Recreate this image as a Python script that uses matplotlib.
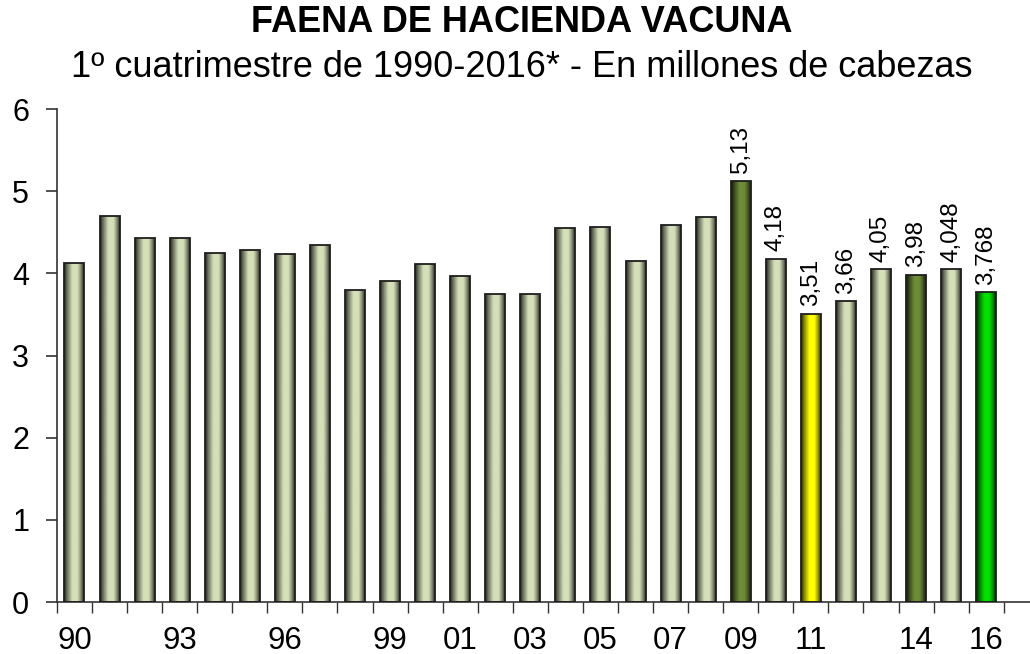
import numpy as np
import matplotlib
matplotlib.use("Agg")
import matplotlib.pyplot as plt
from matplotlib.colors import LinearSegmentedColormap, to_rgb

plt.rcParams['font.family'] = ['Liberation Sans', 'DejaVu Sans']

years = list(range(1990, 2017))
values = [4.13, 4.70, 4.43, 4.43, 4.25, 4.29, 4.23, 4.34, 3.80, 3.91,
          4.11, 3.97, 3.75, 3.75, 4.55, 4.57, 4.15, 4.59, 4.68, 5.13,
          4.18, 3.51, 3.66, 4.05, 3.98, 4.048, 3.768]
value_labels = {2009: "5,13", 2010: "4,18", 2011: "3,51", 2012: "3,66",
                2013: "4,05", 2014: "3,98", 2015: "4,048", 2016: "3,768"}
shown_ticks = {1990: "90", 1993: "93", 1996: "96", 1999: "99", 2001: "01",
               2003: "03", 2005: "05", 2007: "07", 2009: "09", 2011: "11",
               2014: "14", 2016: "16"}
special_colors = {2009: "#6e8c37", 2014: "#6e8c37", 2011: "#ffff00", 2016: "#00e000"}
base_color = "#d5e0b8"

fig = plt.figure(figsize=(10.30, 6.54), dpi=100)
ax = fig.add_axes([0.0553, 0.0795, 0.9447, 0.7538])

x = np.arange(len(years))
bars = ax.bar(x, values, width=0.57, color='none', edgecolor='#1e1e1e',
              linewidth=1.3, zorder=3)

grad = np.linspace(0, 1, 256).reshape(1, -1)
for yr, b in zip(years, bars):
    c = np.array(to_rgb(special_colors.get(yr, base_color)))
    dark = c * 0.15
    mid = c * 0.55
    cmap = LinearSegmentedColormap.from_list(
        "g", [(0.0, dark), (0.18, mid), (0.42, c), (0.68, c), (0.88, mid), (1.0, dark)])
    x0, w, h = b.get_x(), b.get_width(), b.get_height()
    im = ax.imshow(grad, extent=[x0, x0 + w, 0, h], aspect='auto', cmap=cmap,
                   zorder=2, interpolation='bicubic')
    im.set_clip_path(b)
    if yr in value_labels:
        ax.annotate(value_labels[yr], (x0 + w / 2, h), xytext=(0, 5.5),
                    textcoords='offset points', rotation=90, ha='center',
                    va='bottom', fontsize=17.5, color='black')

ax.set_xlim(-0.5, 27.25)
ax.set_ylim(0, 6)
ax.set_yticks([0, 1, 2, 3, 4, 5, 6])
ax.tick_params(axis='y', direction='out', length=8, width=1.2, labelsize=22,
               pad=12, color='#333333')

ax.set_xticks([years.index(y) for y in shown_ticks])
ax.set_xticklabels(list(shown_ticks.values()))
ax.set_xticks(np.arange(-0.5, len(years) + 0.5, 1), minor=True)
ax.tick_params(axis='x', which='major', length=0, labelsize=22.5, pad=17)
ax.tick_params(axis='x', which='minor', direction='out', length=8, width=1.0,
               color='#333333')

for s in ['top', 'right']:
    ax.spines[s].set_visible(False)
ax.spines['left'].set_color('#333333')
ax.spines['bottom'].set_color('#333333')
ax.spines['left'].set_linewidth(1.2)
ax.spines['bottom'].set_linewidth(1.2)

fig.text(0.507, 0.965, "FAENA DE HACIENDA VACUNA", ha='center', va='center',
         fontsize=26, fontweight='bold')
fig.text(0.507, 0.897, "1º cuatrimestre de 1990-2016* - En millones de cabezas",
         ha='center', va='center', fontsize=26)

fig.savefig("out.png", dpi=100)
